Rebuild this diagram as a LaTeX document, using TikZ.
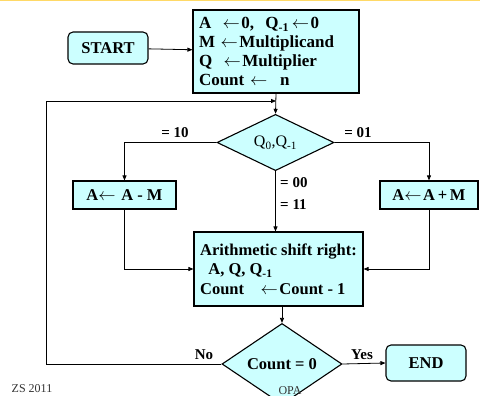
\documentclass[tikz,border=0pt]{standalone}
\usepackage{fontspec}
\setmainfont{Liberation Serif}
\usetikzlibrary{shapes.geometric,arrows.meta}
\definecolor{boxfill}{RGB}{204,255,255}
\definecolor{topline}{RGB}{255,217,102}
\newcommand{\asg}{$\leftarrow$\kern1.5pt}
\tikzset{
  box/.style={draw, line width=1.1pt, fill=boxfill, inner sep=0pt,
    font=\fontsize{16.5}{18.5}\selectfont\bfseries},
  term/.style={box, rounded corners=5pt},
  decision/.style={diamond, draw, line width=1.1pt, fill=boxfill, inner sep=0pt},
  lbl/.style={font=\fontsize{15}{17}\selectfont\bfseries, inner sep=0pt},
  foot/.style={font=\fontsize{12}{14}\selectfont, text=black!80, inner sep=0pt},
  flow/.style={draw, line width=0.8pt, ->}
}
\begin{document}
\begin{tikzpicture}[x=1pt, y=-1pt, >={Triangle[length=5pt,width=4pt]}]
  \useasboundingbox (0,0) rectangle (480,396);
  \draw[topline, line width=2pt] (0,0.5) -- (480,0.5);

  \node[term, minimum width=80pt, minimum height=32pt] (start) at (108,48) {START};
  \node[box, minimum width=166pt, minimum height=83pt, text width=154pt,
    align=left, inner xsep=6pt, font=\fontsize{17}{18.8}\selectfont\bfseries]
    (init) at (276,51.5)
    {A\ \ \asg0,\ \ Q\textsubscript{-1}\,\asg0\\
     M\ \asg Multiplicand\\
     Q\ \ \asg Multiplier\\
     Count\ \asg\ \ n};

  \node[decision, minimum width=117pt, minimum height=51pt,
    font=\fontsize{16}{18}\selectfont] (test) at (275.5,142.5)
    {Q\textsubscript{0},Q\textsubscript{-1}};
  \node[box, minimum width=103pt, minimum height=28pt] (sub) at (124.5,195)
    {A\asg\ A - M};
  \node[box, minimum width=98pt, minimum height=28pt] (add) at (429,195)
    {A\asg A\,+\,M};
  \node[box, minimum width=169pt, minimum height=74pt, align=left,
    font=\fontsize{16.5}{19.5}\selectfont\bfseries] (shift) at (278.5,269)
    {Arithmetic shift right:\\
     \ \ A, Q, Q\textsubscript{-1}\\
     Count\quad\asg Count - 1};

  \node[decision, minimum width=120pt, minimum height=58pt,
    font=\fontsize{16.5}{18}\selectfont\bfseries] (count) at (282,364) {Count = 0};
  \node[term, minimum width=80pt, minimum height=36pt] (end) at (426,363) {END};

  % footer, over the last diamond
  \node[foot] (zs) at (32,389) {ZS 2011};
  \node[foot] (opa) at (290,391) {OPA};

  \coordinate (back) at (276,101);

  \draw[flow] (start) -- (init);
  \draw[flow] (init.south) -- (test.north);
  \draw[flow] (test.west) -| (sub.north);
  \draw[flow] (test.east) -| (add.north);
  \draw[flow] (test.south) -- (test.south |- shift.north);
  \draw[flow] (sub.south) |- (shift.west);
  \draw[flow] (add.south) |- (shift.east);
  \draw[flow] (count.north |- shift.south) -- (count.north);
  \draw[flow] (count.east) -- (end.west);
  \draw[flow] (count.west) -- (46,364) |- (back);

  % branch labels
  \node[lbl] (l10) at (175,133) {= 10};
  \node[lbl] (l01) at (358,133) {= 01};
  \node[lbl, anchor=west] (l00) at (280,183) {= 00};
  \node[lbl, anchor=west] (l11) at (280,205) {= 11};
  \node[lbl] (no) at (204,355) {No};
  \node[lbl] (yes) at (362,355) {Yes};
\end{tikzpicture}
\end{document}
